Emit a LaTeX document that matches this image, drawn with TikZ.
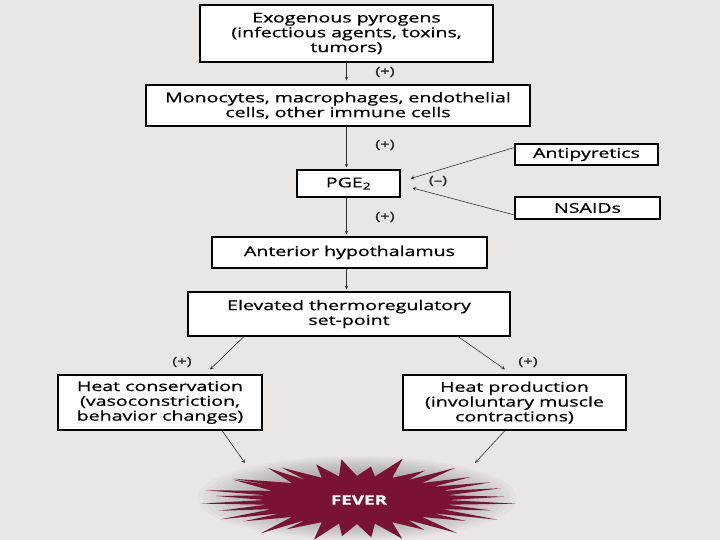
\documentclass[tikz,border=0pt]{standalone}
\usepackage{fontspec}
\setmainfont{Open Sans}
\newfontfamily\boxfont[FakeStretch=1.45, FakeBold=0.7]{Open Sans}
\usepackage{tikz}
\usetikzlibrary{arrows}

\definecolor{bgpaper}{RGB}{232,231,230}
\definecolor{fevred}{RGB}{122,18,52}

\tikzset{
  stepbox/.style={draw=black, line width=1.1pt, fill=white, inner sep=0pt,
    align=center, font=\boxfont\fontsize{13.5}{14.8}\selectfont},
  arr/.style={-stealth, draw=black!80, line width=0.6pt},
  sgn/.style={font=\boxfont\fontsize{11.5}{13}\selectfont, text=black!85}
}

\begin{document}
\begin{tikzpicture}[x=1pt,y=-1pt]

\fill[bgpaper] (0,0) rectangle (720,540);
\useasboundingbox (0,0) rectangle (720,540);

\node[stepbox, minimum width=293pt, minimum height=57pt] (exo) at (346.5,33.5)
  {Exogenous pyrogens\\(infectious agents, toxins,\\tumors)};
\node[stepbox, minimum width=384pt, minimum height=41pt] (mono) at (338,105.5)
  {Monocytes, macrophages, endothelial\\cells, other immune cells};
\node[stepbox, minimum width=103pt, minimum height=27pt] (pge) at (348.5,183.5)
  {PGE\textsubscript{2}};
\node[stepbox, minimum width=143pt, minimum height=21pt] (anti) at (586.5,154.5)
  {Antipyretics};
\node[stepbox, minimum width=145pt, minimum height=22pt] (nsaid) at (587.5,208)
  {NSAIDs};
\node[stepbox, minimum width=275pt, minimum height=31pt] (hypo) at (349.5,252.5)
  {Anterior hypothalamus};
\node[stepbox, minimum width=322pt, minimum height=44pt] (setp) at (349,314)
  {Elevated thermoregulatory\\set-point};
\node[stepbox, minimum width=204pt, minimum height=55pt] (cons) at (160,402.5)
  {Heat conservation\\(vasoconstriction,\\behavior changes)};
\node[stepbox, minimum width=223pt, minimum height=55pt] (prod) at (514.5,402.5)
  {Heat production\\(involuntary muscle\\contractions)};

% glow and burst
\foreach \r in {1.00,0.96,...,0.60}
  \fill[black, opacity=0.025] (357,498) ellipse ({160*\r} and {42*\r});
\fill[fevred] (357+90,500)
  \foreach \i in {0,...,31} {
    -- ({357+(150+10*cos(3*\i*57))*cos(\i*11.25+5.625)},{500+(38+5*sin(5*\i*41))*sin(\i*11.25+5.625)})
    -- ({357+92*cos(\i*11.25+11.25)},{500+24*sin(\i*11.25+11.25)})
  } -- cycle;
\node[font=\boxfont\bfseries\fontsize{13}{15}\selectfont, text=white] (fever) at (359,500) {FEVER};

\coordinate (fl) at (245,463);
\coordinate (fr) at (475,463);

\draw[arr, shorten >=4pt] (exo.south) -- (exo.south |- mono.north);
\draw[arr, shorten >=2pt] (exo.south |- mono.south) -- (exo.south |- pge.north);
\draw[arr, shorten >=2pt] (exo.south |- pge.south) -- (exo.south |- hypo.north);
\draw[arr, shorten >=2pt] (exo.south |- hypo.south) -- (exo.south |- setp.north);
\draw[arr] ([xshift=-105pt]setp.south) -- ([xshift=50pt,yshift=5pt]cons.north);
\draw[arr] ([xshift=109pt]setp.south) -- ([xshift=-9.5pt,yshift=5pt]prod.north);
\draw[arr] ([xshift=62pt]cons.south) -- (fl);
\draw[arr] ([xshift=-9.5pt]prod.south) -- (fr);
\draw[arr] ([yshift=7pt]anti.west) -- ([xshift=10pt,yshift=5pt]pge.east);
\draw[arr] ([yshift=-7pt]nsaid.west) -- ([xshift=12pt,yshift=-4.5pt]pge.east);

\node[sgn] (s1) at (385,72) {(+)};
\node[sgn] (s2) at (385,145) {(+)};
\node[sgn] (s3) at (438,181) {(–)};
\node[sgn] (s4) at (385,217) {(+)};
\node[sgn] (s5) at (182,362) {(+)};
\node[sgn] (s6) at (528,362) {(+)};

\end{tikzpicture}
\end{document}
